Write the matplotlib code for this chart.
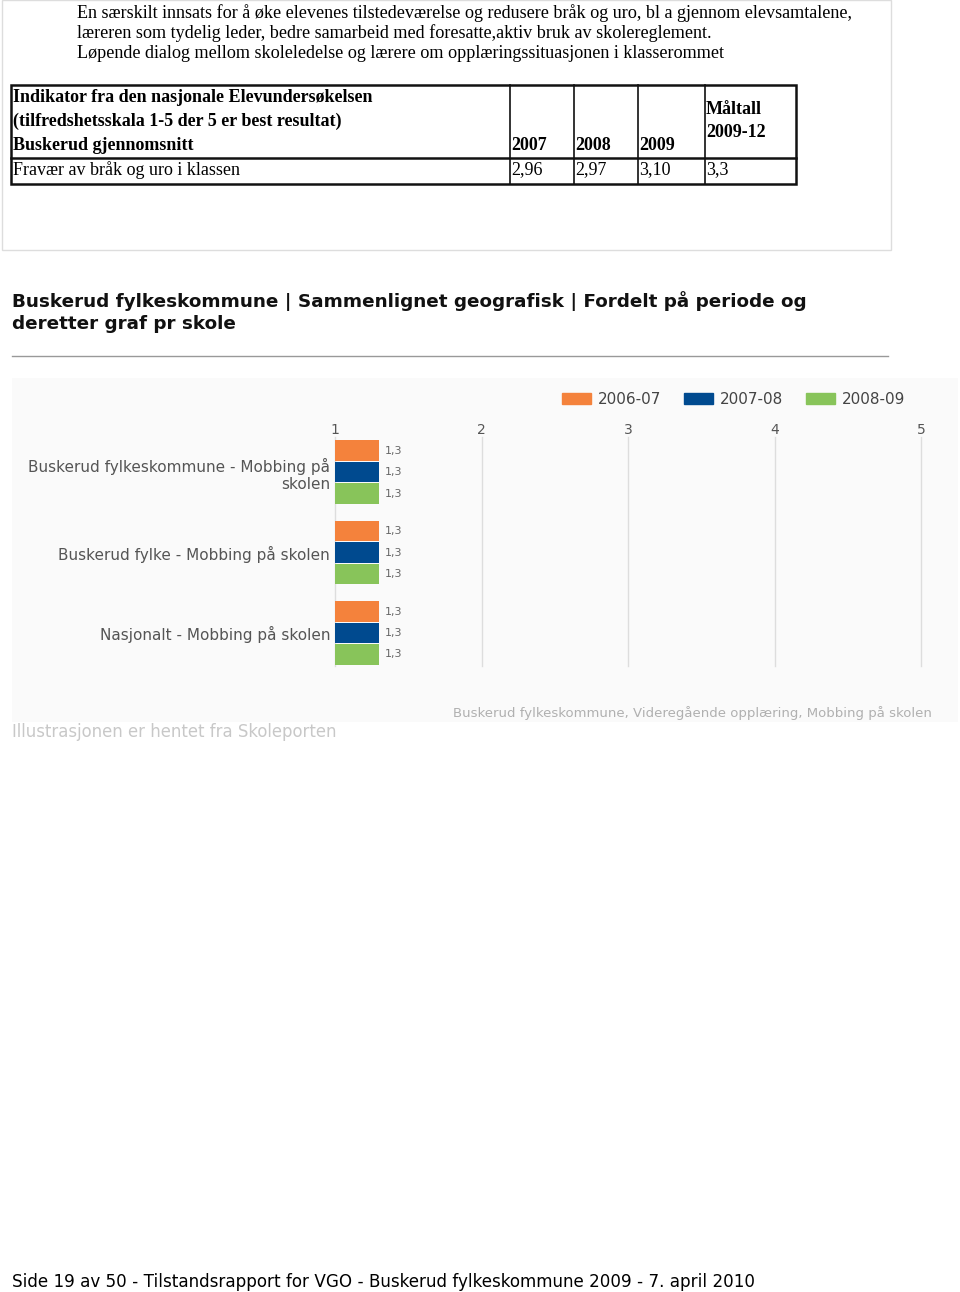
import matplotlib
matplotlib.use("Agg")
import matplotlib.pyplot as plt
from matplotlib.patches import Rectangle, Patch

plt.rcParams["font.family"] = "DejaVu Sans"

# intro text and table
intro_lines = [
    "En særskilt innsats for å øke elevenes tilstedeværelse og redusere bråk og uro, bl a gjennom elevsamtalene,",
    "læreren som tydelig leder, bedre samarbeid med foresatte,aktiv bruk av skolereglement.",
    "Løpende dialog mellom skoleledelse og lærere om opplæringssituasjonen i klasserommet",
]
table_header = [
    "Indikator fra den nasjonale Elevundersøkelsen",
    "(tilfredshetsskala 1-5 der 5 er best resultat)",
    "Buskerud gjennomsnitt",
]
table_years = ["2007", "2008", "2009"]
table_target = "Måltall\n2009-12"
table_row = "Fravær av bråk og uro i klassen"
table_values = ["2,96", "2,97", "3,10", "3,3"]

# chart data
categories = [
    "Buskerud fylkeskommune - Mobbing på\nskolen",
    "Buskerud fylke - Mobbing på skolen",
    "Nasjonalt - Mobbing på skolen",
]
periods = ["2006-07", "2007-08", "2008-09"]
values = {
    "2006-07": [1.3, 1.3, 1.3],
    "2007-08": [1.3, 1.3, 1.3],
    "2008-09": [1.3, 1.3, 1.3],
}
colors = ["#F4823C", "#004A8F", "#88C45A"]
x_ticks = [1, 2, 3, 4, 5]

heading = "Buskerud fylkeskommune | Sammenlignet geografisk | Fordelt på periode og\nderetter graf pr skole"
chart_caption = "Buskerud fylkeskommune, Videregående opplæring, Mobbing på skolen"
source_note = "Illustrasjonen er hentet fra Skoleporten"
footer = "Side 19 av 50 - Tilstandsrapport for VGO - Buskerud fylkeskommune 2009 - 7. april 2010"

W, H = 960, 1292
fig = plt.figure(figsize=(W / 100, H / 100), dpi=100)

# page layer in pixel coordinates
page = fig.add_axes([0, 0, 1, 1])
page.set_xlim(0, W)
page.set_ylim(H, 0)
page.axis("off")

serif = "Liberation Serif"
page.add_patch(Rectangle((2, 0), 889, 250, fill=False, ec="#dddddd", lw=1))
for i, line in enumerate(intro_lines):
    page.text(77, 13 + i * 20.5, line, family=serif, fontsize=13.1, va="center")

# table grid
tl, tr, tt, tb, tm = 11, 796, 85, 184, 158
page.add_patch(Rectangle((tl, tt), tr - tl, tb - tt, fill=False, ec="#111111", lw=1.8))
page.plot([tl, tr], [tm, tm], color="#111111", lw=1.8)
col_x = [510, 574, 638, 705]
for cx in col_x:
    page.plot([cx, cx], [tt, tb], color="#111111", lw=1.2)
for i, line in enumerate(table_header):
    page.text(13, 97 + i * 24, line, family=serif, fontsize=13, weight="bold", va="center")
for cx, yr in zip(col_x, table_years):
    page.text(cx + 1, 145, yr, family=serif, fontsize=13, weight="bold", va="center")
page.text(col_x[3] + 1, 121, table_target, family=serif, fontsize=13, weight="bold",
          va="center", linespacing=1.45)
page.text(13, 170, table_row, family=serif, fontsize=13, va="center")
for cx, v in zip(col_x, table_values):
    page.text(cx + 1, 170, v, family=serif, fontsize=13, va="center")

# heading and rule
page.text(12, 312, heading, fontsize=13.2, weight="bold", va="center", linespacing=1.28, color="#111111")
page.plot([12, 888], [356, 356], color="#999999", lw=1)

# chart background
page.add_patch(Rectangle((12, 378), 946, 344, color="#fafafa", lw=0))
page.text(453, 713, chart_caption, fontsize=9.5, color="#b0b0b0", va="center")
page.text(12, 732, source_note, fontsize=11.9, color="#c8c8c8", va="center")

page.text(12, 1282, footer, fontsize=12.05, va="center")

# bar chart
ax = fig.add_axes([335 / W, 1 - 666 / H, 586 / W, 229 / H])
ax.set_facecolor("none")
step = 0.267
for j, (p, c) in enumerate(zip(periods, colors)):
    ys = [i + (j - 1) * step for i in range(len(categories))]
    ax.barh(ys, values[p], height=0.25, color=c, zorder=3)
    for y, v in zip(ys, values[p]):
        ax.annotate(f"{v:.1f}".replace(".", ","), (v, y), xytext=(6, 0),
                    textcoords="offset pixels", va="center", fontsize=8, color="#666666")
ax.set_xlim(1, 5)
ax.set_ylim(2.41, -0.435)
ax.set_xticks(x_ticks)
ax.xaxis.tick_top()
ax.tick_params(axis="x", length=0, pad=0, labelsize=10, labelcolor="#555555")
ax.set_yticks(range(len(categories)))
ax.set_yticklabels(categories, multialignment="right")
ax.tick_params(axis="y", length=0, pad=3.5, labelsize=11, labelcolor="#555555")
ax.grid(axis="x", color="#dddddd", lw=1, zorder=0)
for gl in ax.get_xgridlines():
    gl.set_clip_on(False)
for s in ax.spines.values():
    s.set_visible(False)

handles = [Patch(color=c, label=p) for p, c in zip(periods, colors)]
fig.legend(handles=handles, loc="center left", bbox_to_anchor=(562 / W, 1 - 399 / H),
           ncol=3, frameon=False, fontsize=11, handlelength=1.9, handleheight=0.7,
           handletextpad=0.45, columnspacing=1.5, borderpad=0, borderaxespad=0,
           labelcolor="#444444")

fig.savefig("out.png", dpi=100)
